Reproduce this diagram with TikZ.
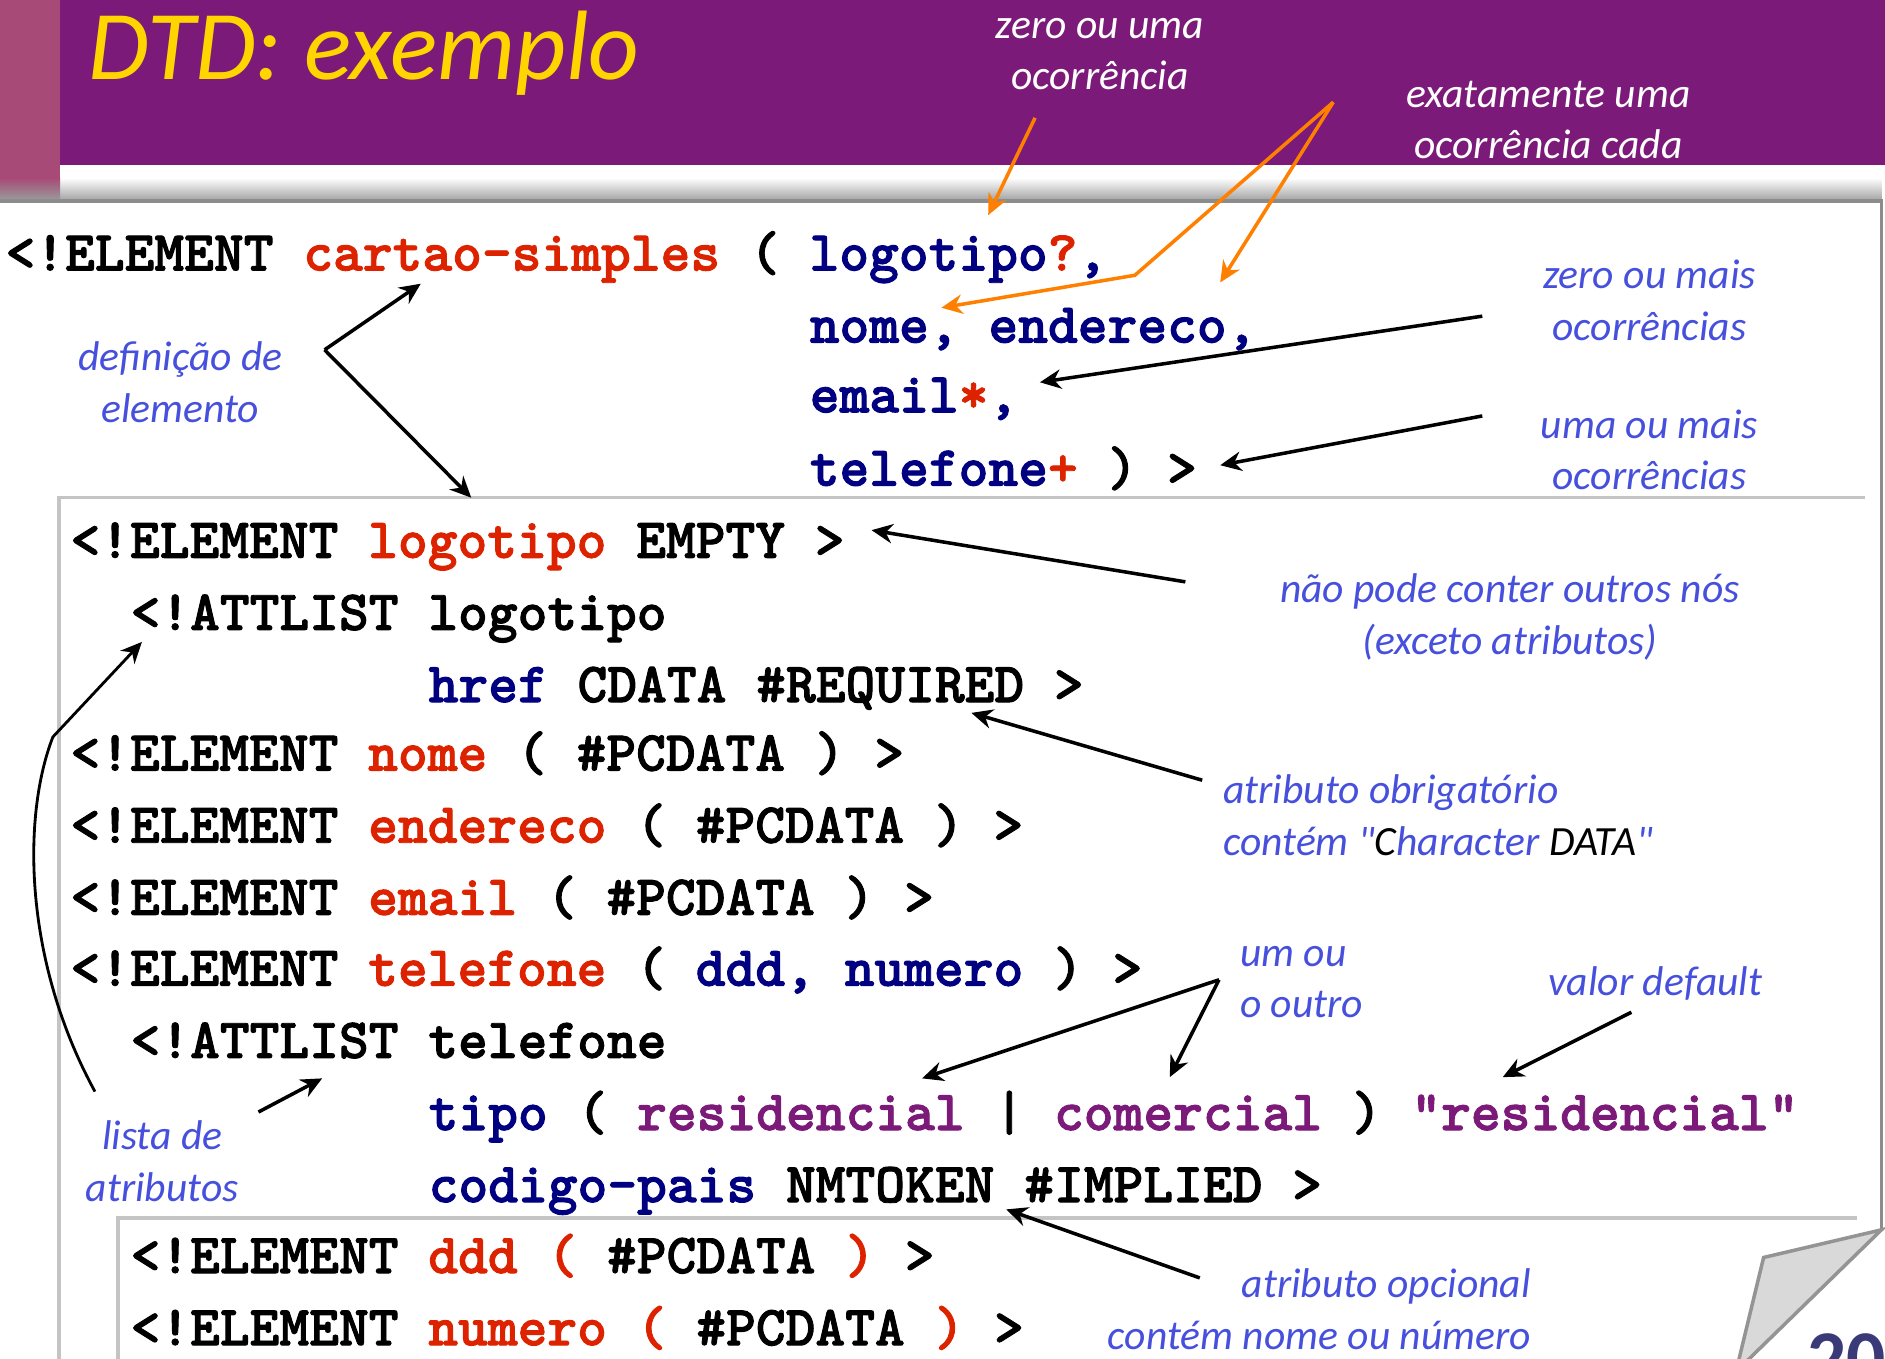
\documentclass[tikz,border=0pt]{standalone}
\usepackage{fontspec}
\setmainfont{Carlito}[Ligatures=TeXOff]
\newfontfamily\codefont{lmmonolt10-bold.otf}[FakeBold=1.6]
\usetikzlibrary{positioning,arrows.meta,calc}

\definecolor{hdrpurple}{HTML}{7B1A78}
\definecolor{hdrpink}{HTML}{A84A78}
\definecolor{ttlyellow}{HTML}{FFD500}
\definecolor{elred}{HTML}{DD2200}
\definecolor{idnavy}{HTML}{000080}
\definecolor{valpurple}{HTML}{7B1A78}
\definecolor{noteblue}{HTML}{4650DC}
\definecolor{hintorange}{HTML}{FF8000}
\definecolor{pagegray}{HTML}{C4C4C4}
\definecolor{pagenavy}{HTML}{3A3A78}

\newcommand{\el}[1]{\textcolor{elred}{#1}}
\newcommand{\nm}[1]{\textcolor{idnavy}{#1}}
\newcommand{\vl}[1]{\textcolor{valpurple}{#1}}

\begin{document}
\begin{tikzpicture}[x=0.012cm, y=-0.012cm,
  code/.style={anchor=base west, inner sep=0pt,
               font=\codefont\fontsize{16.1}{19}\selectfont},
  note/.style={inner sep=0pt, align=center, text=noteblue,
               font=\itshape\fontsize{11.8}{14.6}\selectfont},
  hnote/.style={note, text=white},
  ptr/.style={-{Stealth[length=6pt, width=5.5pt]}, line width=1pt, black},
  optr/.style={ptr, hintorange},
  sheet/.style={pagegray, line width=1pt},
]
\useasboundingbox (0,0) rectangle (1568,1130);
\clip (0,0) rectangle (1568,1130);

% ---- header band ----
\fill[hdrpurple] (50,0) rectangle (1568,137);
\fill[hdrpink] (0,0) rectangle (50,150);
\shade[top color=white, bottom color=black!35] (50,148) rectangle (1565,166);
\shade[top color=hdrpink, bottom color=black!40] (0,148) rectangle (50,166);
\node[anchor=base west, inner sep=0pt, text=ttlyellow,
      font=\itshape\fontsize{28}{28}\selectfont] (title) at (73,66) {DTD: exemplo};

% ---- stacked sheets ----
\draw[black!45, line width=1pt] (0,167) -- (1565,167) -- (1565,1023);
\draw[sheet] (1551,414) -- (49,414) -- (49,1140);
\draw[sheet] (1545,1013) -- (98,1013) -- (98,1140);
\filldraw[fill=black!15, draw=black!42, line width=1pt]
  (1565,1023) -- (1467,1046) -- (1444,1141) -- cycle;
\node[anchor=base west, inner sep=0pt, text=pagenavy,
      font=\bfseries\fontsize{22}{22}\selectfont] (pgnum) at (1503,1152) {20};

% ---- DTD listing ----
\node[code] (cartao) at (4,225)
  {<!ELEMENT \el{cartao-simples} ( \nm{logotipo}\el{?}\nm{,}};
\node[code] (seqa) at (673,285) {\nm{nome, endereco,}};
\node[code] (seqb) at (673,343) {\nm{email}\el{*}\nm{,}};
\node[code] (seqc) at (673,404) {\nm{telefone}\el{+} ) >};
\node[code] (logo) at (58,464) {<!ELEMENT \el{logotipo} EMPTY >};
\node[code] (attlogo) at (108,524) {<!ATTLIST logotipo};
\node[code] (href) at (356,584) {\nm{href} CDATA \#REQUIRED >};
\foreach \n/\b in {nome/641, endereco/701, email/761}
  \node[code] (el\n) at (58,\b) {<!ELEMENT \el{\n} ( \#PCDATA ) >};
\node[code] (tel) at (58,820) {<!ELEMENT \el{telefone} ( \nm{ddd, numero} ) >};
\node[code] (atttel) at (108,880) {<!ATTLIST telefone};
\node[code] (tipo) at (356,940)
  {\nm{tipo} ( \vl{residencial} | \vl{comercial} ) \vl{"residencial"}};
\node[code] (pais) at (356,1000) {\nm{codigo-pais} NMTOKEN \#IMPLIED >};
\node[code] (ddd) at (108,1059) {<!ELEMENT \el{ddd (} \#PCDATA \el{)} >};
\node[code] (num) at (108,1119) {<!ELEMENT \el{numero (} \#PCDATA \el{)} >};

% ---- notes ----
\node[hnote] (hzero) at (915,45) {zero ou uma\\ocorrência};
\node[hnote] (hexato) at (1288,100) {exatamente uma\\ocorrência cada};
\node[note] (ndef) at (150,318) {definição de\\elemento};
\node[note] (nzmais) at (1372,250) {zero ou mais\\ocorrências};
\node[note] (numais) at (1372,374) {uma ou mais\\ocorrências};
\node[note] (nempty) at (1256,513) {não pode conter outros nós\\(exceto atributos)};
\node[note, anchor=west, align=left] (nreq) at (1017,678)
  {atributo obrigatório\\contém "\textcolor{black}{C}haracter \textcolor{black}{DATA}"};
\node[note, anchor=west, align=left] (nou) at (1031,817) {um ou\\o outro};
\node[note] (ndefault) at (1377,818) {valor default};
\node[note, anchor=east, align=right] (nimpl) at (1274,1089)
  {atributo opcional\\contém nome ou número};
\node[note] (nlista) at (135,966) {lista de\\atributos};

% ---- arrow ends ----
\coordinate (defv) at (270,291);
\coordinate (defa) at (350,236);
\coordinate (defb) at (392,414);
\coordinate (zeroa) at (861,98);
\coordinate (zerob) at (822,179);
\coordinate (exv) at (1109,85);
\coordinate (exk) at (944,229);
\coordinate (exa) at (783,256);
\coordinate (exb) at (1015,235);
\coordinate (zma) at (1233,263);
\coordinate (zmb) at (865,318);
\coordinate (uma) at (1233,346);
\coordinate (umb) at (1015,387);
\coordinate (empa) at (986,484);
\coordinate (empb) at (725,441);
\coordinate (reqa) at (1000,649);
\coordinate (reqb) at (808,593);
\coordinate (lsta) at (79,908);
\coordinate (lstk) at (44,613);
\coordinate (lstb) at (118,534);
\coordinate (lstc) at (215,925);
\coordinate (lstd) at (268,897);
\coordinate (ouv) at (1014,815);
\coordinate (oua) at (767,897);
\coordinate (oub) at (973,896);
\coordinate (dfa) at (1357,842);
\coordinate (dfb) at (1250,896);
\coordinate (impa) at (998,1063);
\coordinate (impb) at (837,1006);

% ---- arrows ----
\draw[ptr] (defv) -- (defa);
\draw[ptr] (defv) -- (defb);
\draw[optr] (zeroa) -- (zerob);
\draw[optr] (exv) -- (exk) -- (exa);
\draw[optr] (exv) -- (exb);
\draw[ptr] (zma) -- (zmb);
\draw[ptr] (uma) -- (umb);
\draw[ptr] (empa) -- (empb);
\draw[ptr] (reqa) -- (reqb);
\draw[ptr, line width=0.8pt] (lsta) .. controls (20,800) and (18,680) .. (lstk) -- (lstb);
\draw[ptr] (lstc) -- (lstd);
\draw[ptr] (ouv) -- (oua);
\draw[ptr] (ouv) -- (oub);
\draw[ptr] (dfa) -- (dfb);
\draw[ptr] (impa) -- (impb);

\end{tikzpicture}
\end{document}
